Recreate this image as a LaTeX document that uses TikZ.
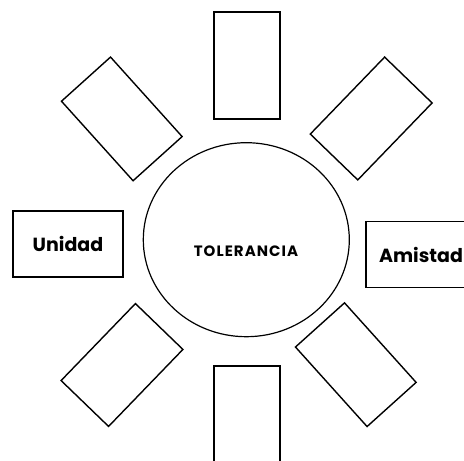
\documentclass[tikz,border=0pt]{standalone}
\usepackage{fontspec}
\setmainfont{Poppins}
\newfontfamily\hubfont[LetterSpace=7]{Poppins}
\usetikzlibrary{shapes.geometric}
\begin{document}
\begin{tikzpicture}[x=1pt,y=-1pt,
  card/.style={draw,line width=1.4pt,minimum width=66pt,minimum height=107pt,inner sep=0pt},
  label/.style={draw,line width=1.4pt,minimum width=110pt,minimum height=66pt,inner sep=0pt,font=\fontsize{19}{19}\selectfont\bfseries},
  hub/.style={draw,ellipse,line width=1.2pt,minimum width=206pt,minimum height=194pt,inner sep=0pt}]
\useasboundingbox (0,0) rectangle (464,461);
\node[hub] (c) at (246.3,239.7) {};
\node[font=\fontsize{15}{15}\hubfont\bfseries] (t) at (246,251) {TOLERANCIA};
\node[card] (n) at (247,65.5) {};
\node[card] (s) at (247,419.5) {};
\node[card,rotate=42] (nw) at (121.8,118.9) {};
\node[card,rotate=-44] (ne) at (371.2,118.5) {};
\node[card,rotate=-44] (sw) at (122,365) {};
\node[card,rotate=42] (se) at (355.8,364.7) {};
\node[label] (w) at (68,244) {Unidad};
\node[label] (e) at (421,254.5) {Amistad};
\end{tikzpicture}
\end{document}
